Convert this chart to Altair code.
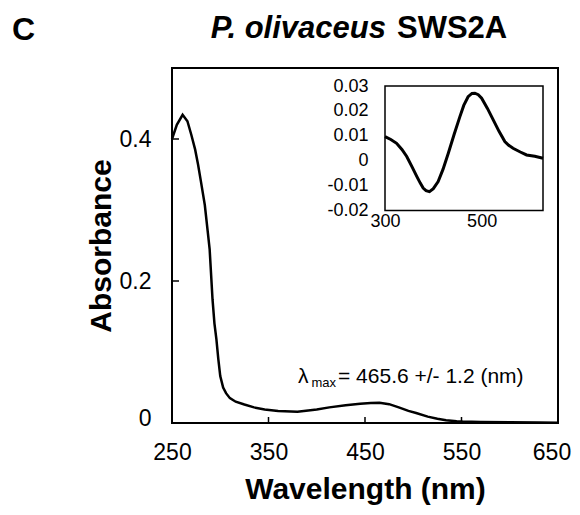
import altair as alt
import pandas as pd

# ---- data ----
wl_main = [250, 255, 261, 266, 270, 274, 277, 280, 284, 287, 289, 292, 294, 296, 298,
           300, 303, 306, 310, 316, 325, 335, 346, 360, 380, 400, 413, 430, 445, 456,
           465, 475, 485, 495, 503, 515, 525, 534, 545, 551, 570, 600, 630, 650]
abs_main = [0.400, 0.420, 0.434, 0.425, 0.406, 0.385, 0.364, 0.340, 0.307, 0.270, 0.245,
            0.174, 0.140, 0.118, 0.090, 0.066, 0.050, 0.042, 0.035, 0.030, 0.026, 0.022,
            0.019, 0.017, 0.016, 0.019, 0.022, 0.025, 0.027, 0.028, 0.0285, 0.0265, 0.022,
            0.017, 0.014, 0.009, 0.006, 0.004, 0.0025, 0.002, 0.0015, 0.001, 0.0008, 0.0005]

wl_inset = [300, 312, 324, 335, 345, 356, 366, 373, 379, 385, 392, 400, 410, 420, 431,
            443, 455, 463, 472, 480, 486, 493, 500, 512, 524, 536, 548, 556, 565, 580,
            593, 610, 627]
diff_inset = [0.0097, 0.0085, 0.0070, 0.0045, 0.0017, -0.0025, -0.0064, -0.0090, -0.0110,
              -0.0120, -0.0124, -0.0112, -0.0084, -0.0035, 0.0030, 0.0105, 0.0177, 0.0222,
              0.0257, 0.0270, 0.0271, 0.0265, 0.0251, 0.0210, 0.0164, 0.0118, 0.0077,
              0.0062, 0.0050, 0.0035, 0.0023, 0.0018, 0.0010]

x_ticks = [250, 350, 450, 550, 650]
y_ticks = [0, 0.2, 0.4]
inner_x_ticks = [350, 450, 550]
inner_y_ticks = [0.2, 0.4]
inset_x_ticks = [300, 500]
inset_y_ticks = [-0.02, -0.01, 0, 0.01, 0.02, 0.03]
x_domain = [250, 650]
y_domain = [0, 0.5]
inset_x_domain = [300, 627]
inset_y_domain = [-0.02, 0.03]

panel_letter = "C"
title_italic = "P. olivaceus"
title_plain = "SWS2A"
lam = "λ"
lam_sub = "max"
lam_text = "= 465.6 +/- 1.2 (nm)"

W, H = 386, 355
FONT = "Liberation Sans"

main_df = pd.DataFrame({"wl": wl_main, "abs": abs_main})
inset_df = pd.DataFrame({"wl2": wl_inset, "d2": diff_inset})

xs = alt.Scale(domain=x_domain, nice=False, zero=False)
ys = alt.Scale(domain=y_domain, nice=False)

x_axis = alt.Axis(
    values=x_ticks, title="Wavelength (nm)", ticks=False, tickSize=0, domain=False,
    grid=False, labelFont=FONT, labelFontSize=23, labelColor="black", labelPadding=18,
    labelFlush=False, labelOverlap=False, labelBound=False,
    labelOffset={"condition": {"test": "datum.value == 650", "value": -6.5}, "value": 0},
    titleFont=FONT, titleFontSize=30,
    titleFontWeight="bold", titleColor="black", titleBaseline="alphabetic", titleY=75)
y_axis = alt.Axis(
    values=y_ticks, title="Absorbance", ticks=False, tickSize=0, domain=False,
    grid=False, labelFont=FONT, labelFontSize=23, labelColor="black", labelPadding=21,
    labelFlush=False, labelOverlap=False, labelExpr="'' + datum.value",
    labelOffset={"condition": {"test": "datum.value == 0", "value": -5}, "value": 0},
    titleFont=FONT, titleFontSize=30, titleFontWeight="bold", titleColor="black",
    titleBaseline="alphabetic", titleX=-62)

main_line = alt.Chart(main_df).mark_line(color="black", strokeWidth=2.5).encode(
    x=alt.X("wl:Q", scale=xs, axis=x_axis),
    y=alt.Y("abs:Q", scale=ys, axis=y_axis),
)

xt = alt.Chart(pd.DataFrame({"wl": inner_x_ticks})).mark_rule(color="black", strokeWidth=1.5).encode(
    x=alt.X("wl:Q", scale=xs, axis=x_axis), y=alt.value(H), y2=alt.value(H - 6))
yt = alt.Chart(pd.DataFrame({"abs": inner_y_ticks})).mark_rule(color="black", strokeWidth=1.5).encode(
    y=alt.Y("abs:Q", scale=ys, axis=y_axis), x=alt.value(0), x2=alt.value(7))


def label(text, x, y, size, style="normal", weight="normal", align="left"):
    return alt.Chart(pd.DataFrame({"t": [text]})).mark_text(
        font=FONT, fontSize=size, fontStyle=style, fontWeight=weight, align=align,
        baseline="alphabetic", color="black").encode(
        x=alt.value(x), y=alt.value(y), text="t:N")


texts = [
    label(panel_letter, -160, -28, 32, weight="bold"),
    label(title_italic, 214, -30, 31, style="italic", weight="bold", align="right"),
    label(title_plain, 225, -30, 31, weight="bold"),
    label(lam, 126, 315, 21),
    label(lam_sub, 139.5, 318.5, 13),
    label(lam_text, 166, 315, 21),
]

main = alt.layer(main_line, xt, yt, *texts)

ixs = alt.Scale(domain=inset_x_domain, nice=False, zero=False, range=[213, 371])
iys = alt.Scale(domain=inset_y_domain, nice=False, zero=False, range=[142.5, 18])

ix_axis = alt.Axis(
    values=inset_x_ticks, orient="bottom", offset=-(H - 142.5), title=None,
    ticks=False, tickSize=0, domain=False, grid=False, labelFont=FONT,
    labelFontSize=18, labelColor="black", labelPadding=2, labelFlush=False,
    labelOverlap=False)
iy_axis = alt.Axis(
    values=inset_y_ticks, orient="left", offset=-213, title=None, ticks=False,
    tickSize=0, domain=False, grid=False, labelFont=FONT, labelFontSize=18,
    labelColor="black", labelPadding=17, labelFlush=False, labelOverlap=False,
    labelExpr="'' + datum.value")

box_df = pd.DataFrame({"wl2": [inset_x_domain[0]], "wl2e": [inset_x_domain[1]],
                       "d2": [inset_y_domain[0]], "d2e": [inset_y_domain[1]]})
box = alt.Chart(box_df).mark_rect(fillOpacity=0, stroke="black", strokeWidth=1.5).encode(
    x=alt.X("wl2:Q", scale=ixs, axis=ix_axis), x2="wl2e:Q",
    y=alt.Y("d2:Q", scale=iys, axis=iy_axis), y2="d2e:Q")

inset_line = alt.Chart(inset_df).mark_line(color="black", strokeWidth=3).encode(
    x=alt.X("wl2:Q", scale=ixs, axis=ix_axis),
    y=alt.Y("d2:Q", scale=iys, axis=iy_axis),
)

inset = alt.layer(box, inset_line)

chart = alt.layer(main, inset).resolve_scale(
    x="independent", y="independent"
).properties(
    width=W, height=H,
    padding={"left": 164, "top": 60, "right": 14, "bottom": 84},
    autosize=alt.AutoSizeParams(type="none"),
).configure_view(stroke="black", strokeWidth=2).configure_axis(grid=False)

chart.save("out.html", embed_options={"renderer": "svg", "actions": False})
